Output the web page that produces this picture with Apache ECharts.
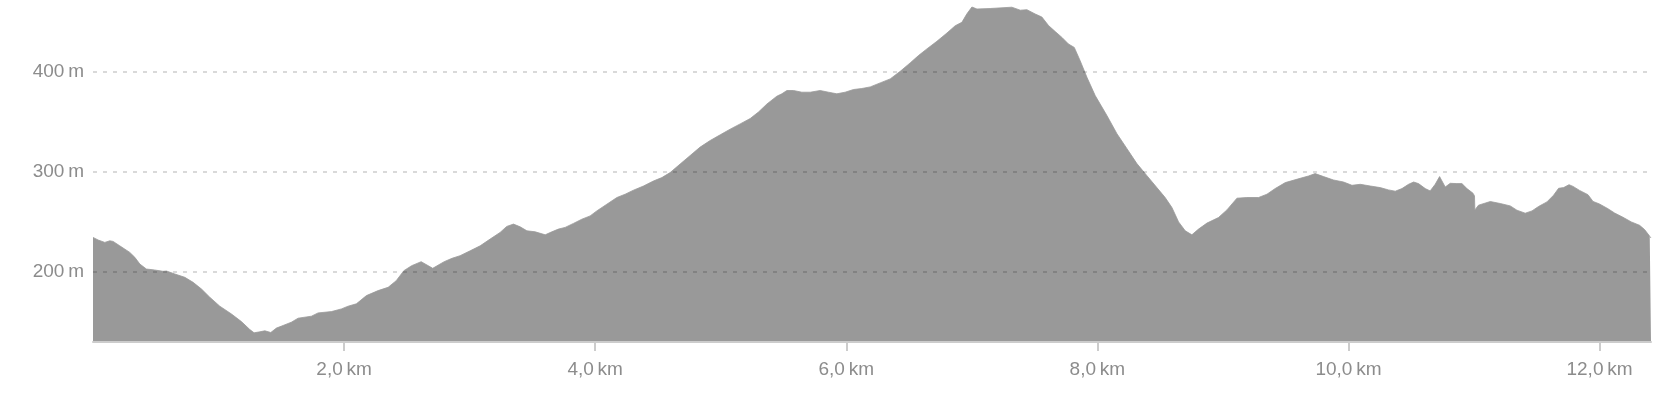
<!DOCTYPE html>
<html>
<head>
<meta charset="utf-8">
<script src="https://cdn.jsdelivr.net/npm/echarts@6/dist/echarts.min.js"></script>
<style>
html,body{margin:0;padding:0;background:#fff;}
#chart{width:1676px;height:400px;}
</style>
</head>
<body>
<div id="chart"></div>
<script>
const distKm = [0, 0.041, 0.094, 0.134, 0.160, 0.213, 0.293, 0.333, 0.373, 0.425, 0.492, 0.558, 0.585, 0.652, 0.731, 0.797, 0.864, 0.930, 1.010, 1.103, 1.182, 1.249, 1.283, 1.329, 1.369, 1.416, 1.461, 1.514, 1.580, 1.634, 1.740, 1.793, 1.899, 1.979, 2.032, 2.098, 2.178, 2.271, 2.351,
  2.415, 2.476, 2.538, 2.614, 2.706, 2.797, 2.860,
  2.924, 3.004, 3.084, 3.163, 3.243, 3.296, 3.349, 3.402, 3.456, 3.522, 3.602, 3.655, 3.707, 3.761, 3.827, 3.894, 3.960, 4.013, 4.093, 4.173, 4.239, 4.305, 4.385, 4.464, 4.531, 4.597, 4.677, 4.757, 4.836, 4.916, 4.996, 5.075, 5.155, 5.235, 5.301, 5.368,
  5.447, 5.487, 5.527, 5.580, 5.646, 5.713, 5.792, 5.858, 5.925, 5.991, 6.058, 6.124, 6.191, 6.270, 6.350, 6.430, 6.509, 6.575, 6.642, 6.722, 6.802, 6.868, 6.921, 6.961, 7.001, 7.041, 7.146, 7.319, 7.386, 7.439, 7.505, 7.558, 7.611, 7.664, 7.718, 7.770, 7.816, 7.863, 7.917, 7.983, 8.076, 8.156, 8.236, 8.315, 8.395, 8.474, 8.540, 8.594, 8.647, 8.700, 8.753, 8.806, 8.873, 8.965, 9.032, 9.112, 9.191, 9.284, 9.351, 9.417, 9.497,
  9.616, 9.682, 9.735, 9.802, 9.881, 9.961, 10.028, 10.094, 10.174, 10.253, 10.319, 10.373, 10.426, 10.479, 10.519, 10.558, 10.612, 10.651, 10.691, 10.726, 10.745, 10.771, 10.811, 10.864, 10.904, 10.944, 10.992, 11.004, 11.007, 11.036, 11.130, 11.209, 11.289, 11.342, 11.408, 11.462, 11.514, 11.581, 11.634, 11.674, 11.714,
  11.757, 11.789, 11.841, 11.908, 11.948, 12.000, 12.067, 12.120, 12.187, 12.253, 12.319, 12.359, 12.400, 12.41];

const elevM = [234.6, 232, 229.6, 231.2, 230.6, 226.2, 219.6, 214.7, 208, 203, 202, 200.7, 201, 198, 194.7, 189.7, 183, 174.8, 165.8, 158, 150.4, 142.5, 139.2, 140.2, 141.2, 139.5, 143.9, 146.5, 149.8, 153.8, 155.8, 159.1, 160.4, 163.1, 165.8, 168.2, 176.4, 181.4, 184.7,
  191.3, 201.3, 206.3, 210.3, 203.7, 210.3, 213.7,
  216.3, 221.2, 226.2, 232.9, 239.6, 245.6, 247.9, 245.2, 241.2, 240.2, 237.2, 240.2, 242.9, 244.6, 248.6, 252.8, 256.1, 261.1, 267.8, 274.5, 277.8, 281.8, 286, 291, 294.4, 299.4, 308, 316.5, 324.9, 331.5, 337.2, 342.8, 348.1, 353.5, 360, 368,
  375.8, 378.2, 381.5, 381.5, 379.8, 379.8, 381.5, 379.8, 378.2, 379.8, 382.5, 383.5, 385.1, 389.1, 393.1, 400.7, 409.1, 416.4, 423.1, 430.7, 439, 446.3, 449.7, 458.2, 465, 463, 463.5, 464.8, 461.8, 462.3, 458, 455, 446.5, 440.5, 434.6, 428, 424.6, 411.3, 394.7, 376.4, 356.5, 338.3, 323.3, 308.4, 296.3, 284.4, 274.5, 264.5, 250.1, 241.2, 237.2, 242.9, 248.9, 254.5, 262.1, 273.8, 274.5, 274.5, 277.8, 283.5, 289.4,
  293.7, 296, 298.4, 295.4, 292, 290, 286.7, 287.7, 286, 284.4, 282.1, 280.8, 283.4, 287.7, 290, 288.4, 283.4, 281.1, 287.7, 295.4, 291, 285, 288.7, 288.4, 288.4, 283.4, 278.8, 276.1, 262.1, 266.8, 270.5, 268.5, 266.1, 261.8, 258.8, 261.1, 265.5, 270.1, 276.8, 283.7, 284.4,
  287.3, 285.6, 281.6, 277.3, 270.6, 268, 263.3, 259, 254.7, 250.1, 246.7, 242.4, 235.7, 234];

const yTickValues = [200, 300, 400];
const xMin = 0, xMax = 12.41, xStep = 2;
const yMin = 130, yMax = 472;
const UNIT_GAP = '\u2009';

const FONT = 'Helvetica, "Liberation Sans", Arial, sans-serif';
const chart = echarts.init(document.getElementById('chart'), null, {renderer: 'canvas'});
chart.setOption({
  animation: false,
  grid: {left: 93, right: 25, top: 0, bottom: 58},
  xAxis: {
    type: 'value', min: xMin, max: xMax, interval: xStep, z: 3,
    axisLine: {show: true, lineStyle: {color: '#cccccc', width: 2}},
    axisTick: {show: true, length: 9, lineStyle: {color: '#cccccc', width: 2}},
    axisLabel: {
      showMinLabel: false, showMaxLabel: false,
      margin: 18, color: '#8c8c8c', fontSize: 19, fontFamily: FONT,
      formatter: function (v) {
        const k = v / xStep;
        if (v <= 0 || Math.abs(k - Math.round(k)) > 1e-6) return '';
        return v.toFixed(1).replace('.', ',') + UNIT_GAP + 'km';
      }
    },
    splitLine: {show: false}
  },
  yAxis: {
    type: 'value', min: yMin, max: yMax, z: 3,
    axisLine: {show: false},
    axisTick: {show: false, customValues: yTickValues},
    axisLabel: {
      customValues: yTickValues, margin: 9, color: '#8c8c8c', fontSize: 19, fontFamily: FONT,
      formatter: function (v) { return v + UNIT_GAP + 'm'; }
    },
    splitLine: {show: true, lineStyle: {color: 'rgba(0,0,0,0.2)', width: 1.5, type: [4, 6]}}
  },
  series: [{
    type: 'line',
    data: distKm.map(function (d, i) { return [d, elevM[i]]; }),
    symbol: 'none',
    lineStyle: {width: 0.8, color: '#999999'},
    areaStyle: {color: '#999999', opacity: 1, origin: 'start'},
    z: 2
  }]
});
</script>
</body>
</html>
